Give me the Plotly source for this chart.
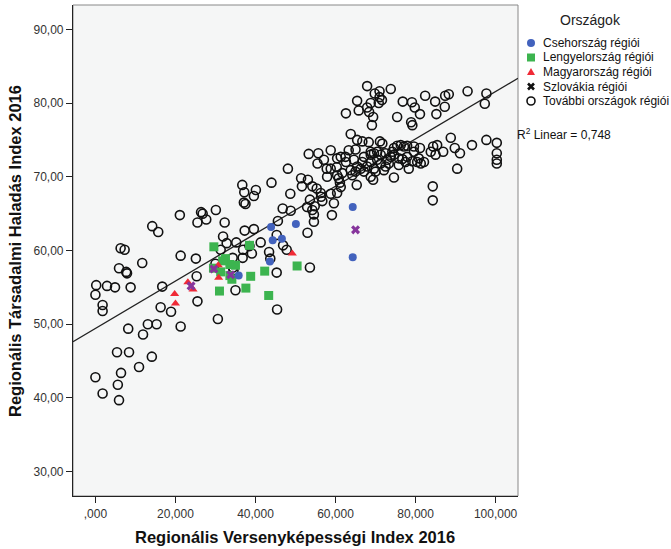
import numpy as np
import plotly.graph_objects as go

# ---------------- data ----------------
cz_x = [43.9, 50.1, 44.3, 46.6, 43.6, 35.8, 64.3, 64.3]
cz_y = [63.2, 63.6, 61.4, 61.6, 58.5, 56.6, 65.9, 59.1]

pl_x = [29.6, 38.5, 32.5, 33.6, 35.0, 29.5, 31.3, 34.1, 38.8, 42.3, 50.4, 31.0, 37.6, 43.3, 33.6, 31.8]
pl_y = [60.5, 60.7, 58.9, 58.1, 58.0, 57.6, 57.1, 56.1, 56.5, 57.2, 57.9, 54.5, 54.9, 53.9, 56.6, 58.6]

hu_x = [19.8, 20.0, 23.1, 24.4, 30.7, 30.8, 49.2]
hu_y = [54.1, 52.8, 55.7, 54.7, 58.0, 56.3, 59.6]

sk_x = [23.9, 29.6, 33.8, 65.0]
sk_y = [55.2, 57.5, 56.7, 62.8]

other_x = [
    0.0, 1.8, 5.4, 5.6, 6.4, 5.9, 8.4, 10.9, 14.1, 11.9, 8.2, 13.1, 15.3, 21.3, 18.9, 16.3,
    25.5, 1.8, 1.8, 0.0, 0.2, 2.9, 4.9, 8.8, 16.7, 25.3, 6.3, 7.3, 5.9, 7.7, 7.9, 11.7,
    21.3, 25.1, 14.2, 15.7, 21.1, 25.5,
    30.6, 35.0, 45.4, 26.4, 26.8, 27.7, 30.1, 32.3, 36.7, 37.2, 37.1, 37.5, 40.1, 39.6,
    44.0, 31.9, 32.8, 35.2, 37.3, 39.6, 41.3, 36.9, 36.8, 39.1, 38.5, 34.3, 31.3, 30.0,
    34.5, 34.4, 43.4, 43.7, 45.3, 45.3, 45.6, 46.9, 47.8, 46.8, 48.8, 48.7, 48.1,
    62.6, 65.4, 65.8, 63.8, 65.4, 53.3, 55.7, 58.8, 61.3, 63.3, 65.0, 62.6, 64.6, 55.5,
    57.1, 57.8, 60.3, 63.8, 64.2, 65.4, 51.4, 53.1, 57.9, 60.8, 61.1, 51.6, 54.2, 55.3,
    61.3, 65.3, 56.3, 58.8, 60.4, 56.4, 53.6, 59.6, 56.7, 52.9, 54.8, 54.2, 54.6, 59.1,
    54.6, 53.0, 53.6, 60.4, 61.7, 65.0, 60.4, 58.8, 62.5,
    67.9, 69.8, 71.0, 73.8, 71.0, 71.6, 68.8, 70.8, 67.9, 68.4, 69.4, 69.1, 76.8, 79.1,
    79.8, 81.1, 75.4, 78.9, 82.4, 84.9, 87.4, 88.3, 87.3, 85.2, 93.0, 97.7, 97.3, 79.2,
    100.3, 100.3, 100.3, 100.3, 97.7, 94.1, 88.8, 89.8, 91.1, 90.4, 84.3, 84.3,
    68.3, 71.1, 74.6, 69.4, 66.3, 86.9, 85.4, 84.4, 83.8, 85.0, 82.1, 81.3, 80.4, 79.6,
    79.6, 81.1, 78.3, 77.1, 76.3, 75.4, 74.2, 74.6, 77.9, 76.7, 75.8, 72.5, 72.1, 71.7,
    66.7, 70.4, 69.6, 68.8, 70.4, 71.3, 68.8, 67.9, 67.1, 70.0, 73.8, 72.9, 73.3,
    67.1, 66.7, 68.8, 71.3, 72.5, 74.6, 75.8, 77.5, 79.2, 80.8, 69.6, 68.8, 77.9,
]
other_y = [
    42.8, 40.6, 46.2, 41.8, 43.4, 39.7, 46.2, 44.2, 45.6, 48.6, 49.4, 50.0, 50.0, 49.7, 51.7, 52.3,
    53.1, 52.6, 51.8, 54.0, 55.3, 55.2, 55.0, 55.0, 55.1, 56.5, 60.3, 60.1, 57.6, 57.1, 56.9, 58.3,
    59.3, 58.9, 63.3, 62.5, 64.8, 63.8,
    50.7, 54.6, 52.0, 65.2, 65.0, 64.2, 65.5, 63.8, 68.9, 67.9, 66.5, 66.3, 68.2, 67.4,
    69.2, 61.9, 61.0, 61.1, 62.7, 62.9, 61.1, 60.1, 59.0, 59.6, 60.6, 59.0, 60.1, 58.2,
    57.3, 57.7, 59.8, 58.9, 57.0, 62.1, 64.0, 60.7, 60.1, 65.7, 65.4, 67.7, 71.1,
    78.6, 80.3, 79.0, 75.8, 75.0, 73.1, 73.2, 73.6, 72.7, 73.6, 73.7, 72.0, 72.3, 71.8,
    72.3, 71.1, 71.3, 70.9, 70.2, 71.4, 69.8, 69.6, 70.0, 69.8, 69.2, 68.7, 68.7, 68.4,
    68.6, 68.9, 67.8, 67.7, 67.8, 67.3, 66.9, 66.4, 66.7, 65.9, 66.0, 65.5, 64.9, 64.8,
    63.9, 62.4, 57.7, 72.5, 70.5, 70.7, 70.2, 71.1, 72.7,
    82.3, 81.3, 81.6, 81.9, 80.8, 80.4, 80.0, 80.0, 79.4, 78.8, 78.1, 77.0, 80.2, 80.1,
    79.4, 78.5, 78.1, 77.4, 81.0, 80.2, 81.0, 81.2, 79.5, 78.5, 81.6, 81.3, 79.9, 77.0,
    74.6, 73.2, 72.3, 71.8, 75.0, 74.3, 75.3, 73.9, 73.2, 71.1, 68.7, 66.8,
    74.7, 74.8, 69.9, 69.6, 71.1, 73.4, 74.3, 74.1, 73.4, 73.0, 72.0, 71.8, 72.0, 74.1,
    73.4, 73.9, 71.1, 74.1, 74.3, 74.2, 73.4, 73.0, 72.7, 72.4, 71.6, 71.4, 70.9, 74.5,
    74.8, 73.4, 73.2, 73.4, 72.3, 71.8, 72.0, 71.4, 70.7, 70.7, 72.7, 72.3, 71.8,
    72.7, 72.0, 73.0, 73.0, 73.2, 73.9, 72.5, 72.0, 72.1, 72.5, 71.1, 70.0, 74.2,
]

legend_title = "Országok"
legend_names = ["Csehország régiói", "Lengyelország régiói", "Magyarország régiói",
                "Szlovákia régiói", "További országok régiói"]
x_ticks = [0, 20, 40, 60, 80, 100]
x_ticktext = [",000", "20,000", "40,000", "60,000", "80,000", "100,000"]
y_ticks = [30, 40, 50, 60, 70, 80, 90]
y_ticktext = ["30,00", "40,00", "50,00", "60,00", "70,00", "80,00", "90,00"]
x_range = [-5.6, 105.6]
y_range = [26.7, 93.3]
r2_label = "R<sup>2</sup> Linear = 0,748"
x_title = "Regionális Versenyképességi Index 2016"
y_title = "Regionális Társadalmi Haladás Index 2016"

# ---------------- figure ----------------
FONT = "Liberation Sans, Arial, sans-serif"
W, H = 671, 549
ML, MR, MT, MB = 73, 153, 5, 53
PW, PH = W - ML - MR, H - MT - MB


def px_to_paper_x(px):
    return (px - ML) / PW


def px_to_paper_y(py):
    return (H - MB - py) / PH


BLUE, GREEN, RED, PURPLE, BLACK = "#4262bd", "#3cb44f", "#f02a36", "#86359c", "#111111"

fig = go.Figure()

# linear fit over all regions
all_x = np.array(other_x + cz_x + pl_x + hu_x + sk_x)
all_y = np.array(other_y + cz_y + pl_y + hu_y + sk_y)
slope, intercept = np.polyfit(all_x, all_y, 1)
fx = np.array(x_range)
fig.add_trace(go.Scatter(x=fx, y=intercept + slope * fx, mode="lines",
                         line=dict(color="#222222", width=1.3), hoverinfo="skip"))

fig.add_trace(go.Scatter(x=other_x, y=other_y, mode="markers", name=legend_names[4],
                         marker=dict(symbol="circle-open", size=9, color=BLACK,
                                     line=dict(width=1.6, color=BLACK))))
fig.add_trace(go.Scatter(x=pl_x, y=pl_y, mode="markers", name=legend_names[1],
                         marker=dict(symbol="square", size=9, color=GREEN)))
fig.add_trace(go.Scatter(x=cz_x, y=cz_y, mode="markers", name=legend_names[0],
                         marker=dict(symbol="circle", size=8, color=BLUE)))
fig.add_trace(go.Scatter(x=hu_x, y=hu_y, mode="markers", name=legend_names[2],
                         marker=dict(symbol="triangle-up", size=8, color=RED)))
fig.add_trace(go.Scatter(x=sk_x, y=sk_y, mode="markers", name=legend_names[3],
                         marker=dict(symbol="x", size=8, color=PURPLE, line=dict(width=0))))

# ---------- hand-made legend (SPSS style, compact spacing) ----------
leg_marker_px = 531
leg_text_px = 541
leg_rows_py = [43, 57.5, 72, 86.5, 101]
shapes = [dict(type="rect", xref="paper", yref="paper", x0=0, y0=0, x1=1, y1=1,
               line=dict(color="#888888", width=1), layer="below")]
annotations = []


def swatch(kind, py):
    ax = px_to_paper_x(leg_marker_px)
    ay = px_to_paper_y(py)
    base = dict(xref="paper", yref="paper", xsizemode="pixel", ysizemode="pixel",
                xanchor=ax, yanchor=ay)
    if kind == "circle":
        return dict(type="circle", x0=-4, x1=4, y0=-4, y1=4, fillcolor=BLUE,
                    line=dict(width=0), **base)
    if kind == "square":
        return dict(type="rect", x0=-4, x1=4, y0=-4, y1=4, fillcolor=GREEN,
                    line=dict(width=0), **base)
    if kind == "triangle":
        return dict(type="path", path="M-4,-3 L4,-3 L0,4 Z", fillcolor=RED,
                    line=dict(width=0), **base)
    if kind == "x":
        return dict(type="path", path="M-3,-3 L3,3 M-3,3 L3,-3",
                    line=dict(width=2.6, color=BLACK), **base)
    return dict(type="circle", x0=-4, x1=4, y0=-4, y1=4, fillcolor="rgba(0,0,0,0)",
                line=dict(width=1.6, color=BLACK), **base)


for kind, name, py in zip(["circle", "square", "triangle", "x", "open"], legend_names, leg_rows_py):
    shapes.append(swatch(kind, py))
    annotations.append(dict(text=name, xref="paper", yref="paper",
                            x=px_to_paper_x(leg_text_px), y=px_to_paper_y(py),
                            xanchor="left", yanchor="middle", showarrow=False,
                            font=dict(size=12, family=FONT, color=BLACK)))

annotations += [
    dict(text=legend_title, xref="paper", yref="paper", x=px_to_paper_x(590),
         y=px_to_paper_y(20), xanchor="center", yanchor="middle", showarrow=False,
         font=dict(size=14, family=FONT, color="#222222")),
    dict(text=r2_label, xref="paper", yref="paper", x=px_to_paper_x(515),
         y=px_to_paper_y(134), xanchor="left", yanchor="middle", showarrow=False,
         font=dict(size=12, family=FONT, color=BLACK)),
    dict(text="<b>" + x_title + "</b>", xref="paper", yref="paper",
         x=px_to_paper_x(295), y=px_to_paper_y(537), xanchor="center", yanchor="middle",
         showarrow=False, font=dict(size=16.5, family=FONT, color=BLACK)),
    dict(text="<b>" + y_title + "</b>", xref="paper", yref="paper",
         x=px_to_paper_x(15), y=px_to_paper_y(251), xanchor="center", yanchor="middle",
         textangle=-90, showarrow=False, font=dict(size=16.5, family=FONT, color=BLACK)),
]

fig.update_layout(
    width=W, height=H,
    margin=dict(l=ML, r=MR, t=MT, b=MB, autoexpand=False),
    paper_bgcolor="white",
    plot_bgcolor="#f5f6f6",
    font=dict(family=FONT, size=12, color="#222222"),
    showlegend=False,
    xaxis=dict(range=x_range, tickvals=x_ticks, ticktext=x_ticktext,
               showgrid=False, zeroline=False, showline=True, linecolor="#222222",
               linewidth=1.2, ticks="outside", ticklen=6, tickcolor="#222222",
               tickfont=dict(size=12, color="#333333"), automargin=False),
    yaxis=dict(range=y_range, tickvals=y_ticks, ticktext=y_ticktext,
               showgrid=False, zeroline=False, showline=True, linecolor="#222222",
               linewidth=1.2, ticks="outside", ticklen=6, tickcolor="#222222",
               tickfont=dict(size=12, color="#333333"), automargin=False),
    shapes=shapes,
    annotations=annotations,
)

# remove the default page margin so the figure sits at the window's top-left corner
fig.write_html("out.html", config={"displayModeBar": False},
               post_script="document.body.style.margin='0px';document.body.style.overflow='hidden';")
